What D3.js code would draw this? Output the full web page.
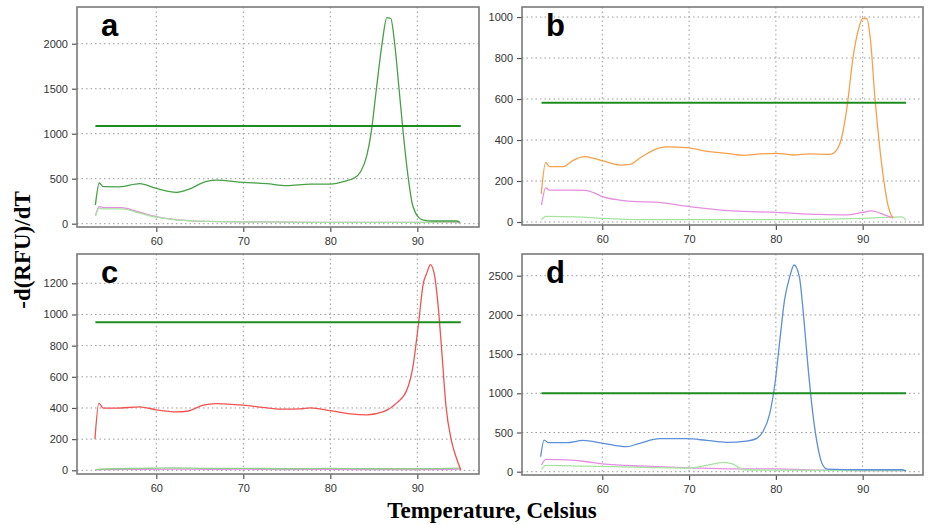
<!DOCTYPE html>
<html><head><meta charset="utf-8">
<script src="https://cdn.jsdelivr.net/npm/d3@7"></script>
<style>body{margin:0;background:#fff}svg{display:block}</style>
</head><body>
<svg id="chart" width="928" height="525"></svg>
<script>
// ---------- DATA ----------
const xTicks = [60, 70, 80, 90];
const aYTicks = [0, 500, 1000, 1500, 2000];
const bYTicks = [0, 200, 400, 600, 800, 1000];
const cYTicks = [0, 200, 400, 600, 800, 1000, 1200];
const dYTicks = [0, 500, 1000, 1500, 2000, 2500];
const thresholds = [1085, 582, 950, 1000];
const thresholdRange = [53, 95];

// panel a
const aMainT = [53.0,53.45,53.9,55.8,58.1,60,62.3,63.5,65.8,66.9,70,72.7,75,77.7,80,81.9,82.6,83.5,84.2,84.68,85.3,85.95,86.5,86.95,87.4,87.9,88.39,88.97,89.4,89.8,90.2,90.7,91.8,94.5,94.9];
const aMainV = [208,452,411,410,445,393,349,375,471,485,460,445,422,440,440,478,500,580,760,1000,1500,2000,2290,2280,2000,1500,1000,500,230,120,65,40,30,30,15];
const aLowT = [53,53.45,54,56,58,60,62,64,66,70,75,80,85,90,94.5,95];
const aPinkV = [90,190,178,178,130,78,48,32,25,20,17,15,15,15,15,5];
const aLightV = [85,172,165,165,120,72,45,32,25,20,17,15,15,15,20,5];

// panel b
const bMainT = [52.97,53.48,53.9,55.5,56.7,58,59,60.1,62,63.2,64.3,65.9,67.4,69.7,72.4,74.3,76.2,78.2,80.1,82,83.9,86.2,87,87.6,88.2,88.9,89.5,90,90.46,90.9,91.4,92,92.6,92.95,93.5];
const bMainV = [137,291,270,270,302,319,311,298,278,281,311,351,367,363,343,335,325,332,335,327,332,330,351,416,562,806,937,993,993,888,611,351,156,75,18];
const bPinkT = [53,53.48,53.9,56,58,59,60,62,64,66,70,75,80,85,88,90,91,92.5,93.5];
const bPinkV = [83,167,156,156,154,143,124,107,99,97,75,54,47,37,35,47,54,35,20];
const bLightT = [53,53.5,57,60,65,70,80,90,94.5,95];
const bLightV = [10,27,25,18,12,12,12,18,25,8];

// panel c
const cMainT = [52.95,53.4,53.9,55.4,58.1,60,62.3,63.5,65.4,66.9,70,72.7,74.6,76.5,77.7,80,82.3,84.2,86.1,87.6,88.8,89.5,90.1,90.7,91.1,91.5,92,92.4,92.8,93.3,93.9,94.5,95];
const cMainV = [201,431,399,399,407,388,375,379,418,428,418,401,392,394,401,383,362,356,376,431,516,666,923,1202,1267,1320,1245,1052,773,409,195,77,2];
const cLowT = [53,55,58,62,66,70,75,80,85,90,95];
const cPinkV = [3,5,6,8,6,7,5,6,5,5,8];
const cLightV = [5,10,12,15,12,13,10,12,10,10,14];

// panel d
const dMainT = [52.9,53.3,53.8,55.9,57.8,60.1,62.8,64.3,66.6,69.7,72,74.3,76.6,77.8,78.5,79.3,79.9,80.5,81,81.6,82.1,82.7,83.2,83.7,84.3,84.9,85.3,85.9,90,94.5,95];
const dMainV = [191,404,370,370,400,362,319,362,421,421,400,375,391,426,510,745,1128,1723,2191,2488,2637,2488,1978,1340,702,277,107,34,25,25,10];
const dPinkT = [53,53.5,56,58,60,65,70,75,80,85,90,95];
const dPinkV = [85,158,150,130,100,70,50,35,35,20,15,15];
const dLightT = [53,53.5,58,65,70,72,74,75,76.3,80,90,95];
const dLightV = [30,80,70,55,45,80,120,100,25,20,15,15];

const panelLabels = ["a", "b", "c", "d"];

// ---------- DRAW ----------
const svg = d3.select("#chart");
const zip = (t, v) => t.map((x, i) => [x, v[i]]);

const panels = [
  {label:panelLabels[0], box:[77,479,7,227], xd:[50.885,97.09], yd:[-36.7,2408], yt:aYTicks, thr:thresholds[0],
   series:[{d:zip(aLowT,aPinkV),c:"#e48ee0"},{d:zip(aLowT,aLightV),c:"#a6e3a0"},{d:zip(aMainT,aMainV),c:"#46a046"}]},
  {label:panelLabels[1], box:[522,923,7,225], xd:[50.75,96.95], yd:[-14.6,1049], yt:bYTicks, thr:thresholds[1],
   series:[{d:zip(bLightT,bLightV),c:"#a6e3a0"},{d:zip(bPinkT,bPinkV),c:"#e48ee0"},{d:zip(bMainT,bMainV),c:"#f7a04a"}]},
  {label:panelLabels[2], box:[77,479,254,474], xd:[50.885,97.09], yd:[-23.7,1388], yt:cYTicks, thr:thresholds[2],
   series:[{d:zip(cLowT,cPinkV),c:"#e48ee0"},{d:zip(cLowT,cLightV),c:"#8fd08a"},{d:zip(cMainT,cMainV),c:"#ef5350"}]},
  {label:panelLabels[3], box:[522,923,254,475], xd:[50.75,96.95], yd:[-42,2777], yt:dYTicks, thr:thresholds[3],
   series:[{d:zip(dPinkT,dPinkV),c:"#e48ee0"},{d:zip(dLightT,dLightV),c:"#a6e3a0"},{d:zip(dMainT,dMainV),c:"#5b8fd8"}]}
];

panels.forEach(p => {
  const [x0,x1,y0,y1] = p.box;
  const x = d3.scaleLinear().domain(p.xd).range([x0,x1]);
  const y = d3.scaleLinear().domain(p.yd).range([y1,y0]);
  const g = svg.append("g");

  // grid
  g.selectAll(".gx").data(xTicks).join("line")
    .attr("x1",d=>x(d)).attr("x2",d=>x(d)).attr("y1",y0).attr("y2",y1)
    .attr("stroke","#9a9a9a").attr("stroke-width",1).attr("stroke-dasharray","1.5,3");
  g.selectAll(".gy").data(p.yt).join("line")
    .attr("x1",x0).attr("x2",x1).attr("y1",d=>y(d)).attr("y2",d=>y(d))
    .attr("stroke","#9a9a9a").attr("stroke-width",1).attr("stroke-dasharray","1.5,3");

  // axes
  const ax = g.append("g").attr("transform",`translate(0,${y1})`)
    .call(d3.axisBottom(x).tickValues(xTicks).tickFormat(d3.format("d")).tickSize(5).tickPadding(5));
  const ay = g.append("g").attr("transform",`translate(${x0},0)`)
    .call(d3.axisLeft(y).tickValues(p.yt).tickFormat(d3.format("d")).tickSize(5).tickPadding(4));
  [ax, ay].forEach(a => {
    a.select(".domain").remove();
    a.selectAll("line").attr("stroke","#555").attr("stroke-width",1.2);
    a.selectAll("text").attr("font-family","'Liberation Sans', Arial, sans-serif")
      .attr("font-size",11).attr("fill","#333");
  });

  // frame
  g.append("rect").attr("x",x0).attr("y",y0).attr("width",x1-x0).attr("height",y1-y0)
    .attr("fill","none").attr("stroke","#7a7a7a").attr("stroke-width",1.6);

  // series
  const line = d3.line().x(d=>x(d[0])).y(d=>y(d[1])).curve(d3.curveMonotoneX);
  p.series.forEach(s => {
    g.append("path").attr("d", line(s.d)).attr("fill","none")
      .attr("stroke", s.c).attr("stroke-width",1.3);
  });

  // threshold
  g.append("line").attr("x1",x(thresholdRange[0])).attr("x2",x(thresholdRange[1]))
    .attr("y1",y(p.thr)).attr("y2",y(p.thr)).attr("stroke","#1e8c1e").attr("stroke-width",2);

  // panel letter
  g.append("text").attr("x", x0+24).attr("y", y0+29).text(p.label)
    .attr("font-family","'Liberation Sans', Arial, sans-serif").attr("font-weight","bold")
    .attr("font-size",31).attr("fill","#000");
});

// axis titles
svg.append("text").attr("transform","translate(30,250) rotate(-90)").attr("text-anchor","middle")
  .attr("font-family","'Liberation Serif', 'Times New Roman', serif").attr("font-weight","bold")
  .attr("font-size",23).attr("fill","#000").text("-d(RFU)/dT");
svg.append("text").attr("x",492).attr("y",518).attr("text-anchor","middle")
  .attr("font-family","'Liberation Serif', 'Times New Roman', serif").attr("font-weight","bold")
  .attr("font-size",23).attr("fill","#000").text("Temperature, Celsius");
</script>
</body></html>
